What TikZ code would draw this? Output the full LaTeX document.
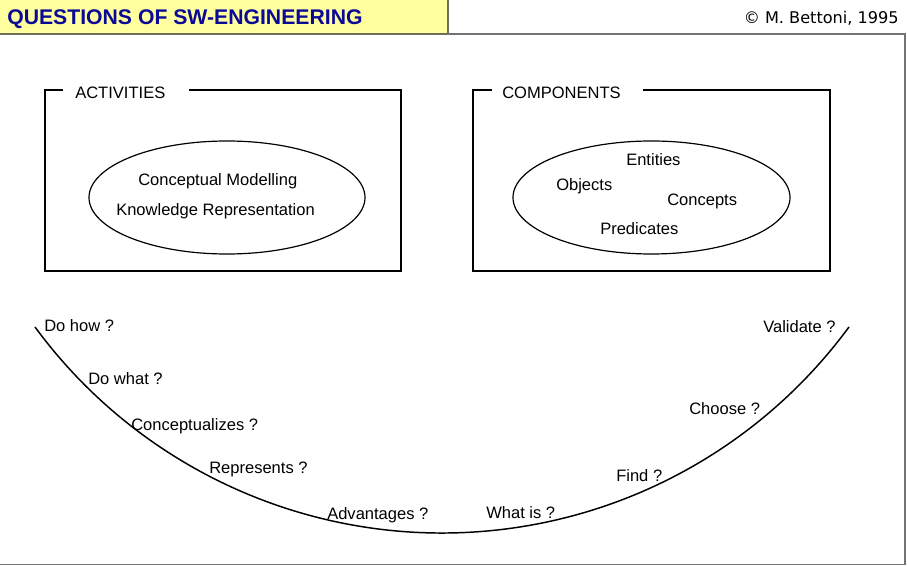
\documentclass[tikz,border=0pt]{standalone}
\usepackage{fontspec}
\setmainfont{Liberation Sans}
\newfontfamily\copyfont{DejaVu Sans}
\usetikzlibrary{shapes.geometric,positioning}
\definecolor{titleblue}{RGB}{10,10,150}
\definecolor{titleyellow}{RGB}{255,255,160}
\definecolor{titleedge}{RGB}{110,110,90}
\definecolor{framegray}{RGB}{115,115,115}

\begin{document}
\begin{tikzpicture}[x=0.75pt,y=-0.75pt,
  lbl/.style={font=\fontsize{12.4}{14}\selectfont, inner sep=0pt, anchor=base west},
  boxline/.style={line width=0.9pt},
  bubble/.style={draw, ellipse, line width=0.9pt, inner sep=0pt, minimum height=84.75pt}]
\useasboundingbox (0,0) rectangle (907,566);
% header band and outer frame
\fill[titleyellow] (0,0) rectangle (448,34);
\draw[titleedge, line width=1.4pt] (448,0) -- (448,34) -- (0,34);
\draw[framegray, line width=1.1pt] (448,34) -- (905,34) -- (905,564.5) -- (0,564.5);
\node[font=\fontsize{15.9}{18}\selectfont\bfseries, text=titleblue, inner sep=0pt, anchor=base west] (title) at (7,25) {QUESTIONS OF SW-ENGINEERING};
\node[font=\fontsize{12.1}{14}\selectfont\copyfont, inner sep=0pt, anchor=base east] (copy) at (899,24) {\textcopyright{} M. Bettoni, 1995};

% activities box
\draw[boxline] (63,90) -| (45,271) -| (401,90) -- (189,90);
\node[lbl] (actlabel) at (75,99) {ACTIVITIES};
\node[bubble, minimum width=207pt] (actbubble) at (227,197.5) {};
\node[lbl] (cm) at (138,186) {Conceptual Modelling};
\node[lbl] (kr) at (116,216) {Knowledge Representation};

% components box
\draw[boxline] (492,90) -| (473,271) -| (830,90) -- (643,90);
\node[lbl] (complabel) at (502,99) {COMPONENTS};
\node[bubble, minimum width=207.75pt] (compbubble) at (651.5,197.5) {};
\node[lbl] (entities) at (626,166) {Entities};
\node[lbl] (objects) at (556,191) {Objects};
\node[lbl] (concepts) at (667,206) {Concepts};
\node[lbl] (predicates) at (600,235) {Predicates};

% the question curve
\draw[line width=1.1pt] (35,327) arc[start angle=143.7, end angle=36.3, radius=505];
\node[lbl] (dohow) at (44,332) {Do how ?};
\node[lbl] (dowhat) at (88,385) {Do what ?};
\node[lbl] (concept) at (131,431) {Conceptualizes ?};
\node[lbl] (repr) at (209,474) {Represents ?};
\node[lbl] (advant) at (327,519) {Advantages ?};
\node[lbl] (whatis) at (486,518) {What is ?};
\node[lbl] (find) at (616,482) {Find ?};
\node[lbl] (choose) at (689,415) {Choose ?};
\node[lbl] (validate) at (763,333) {Validate ?};
\end{tikzpicture}
\end{document}
